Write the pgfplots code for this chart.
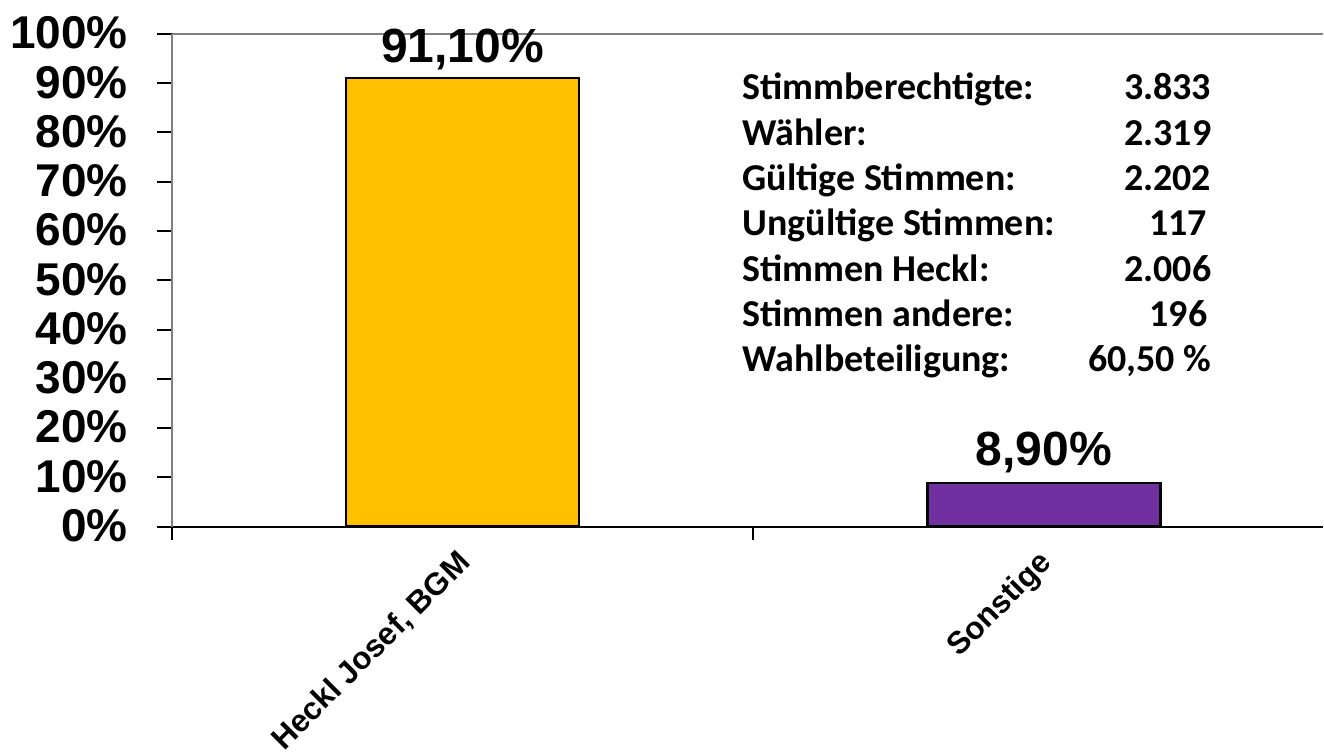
\documentclass[border=0pt]{standalone}
\usepackage{pgfplots}
\pgfplotsset{compat=1.18}
\usepackage{fontspec}
\setmainfont{Liberation Sans}
\newfontfamily\calibri{Carlito}
\definecolor{barY}{HTML}{FFC000}
\definecolor{barP}{HTML}{7030A0}
\newcommand{\row}[2]{\makebox[234.5pt][l]{#1\hfill #2}}
\begin{document}
\begin{tikzpicture}
\begin{axis}[
  at={(86pt,113pt)}, anchor=south west,
  scale only axis, width=576pt, height=246.5pt,
  xmin=-0.5, xmax=1.48, ymin=0, ymax=100,
  clip=false,
  axis x line*=bottom, axis y line*=left,
  x axis line style={black, line width=1pt},
  y axis line style={gray, line width=1pt},
  tick align=outside,
  major tick length=7.5pt,
  tick style={black, line width=1pt},
  ytick={0,10,20,30,40,50,60,70,80,90,100},
  yticklabels={0\%,10\%,20\%,30\%,40\%,50\%,60\%,70\%,80\%,90\%,100\%},
  yticklabel style={font=\bfseries\fontsize{23}{23}\selectfont, xshift=-11pt, yshift=0.5pt},
  xtick={0,1},
  xticklabels={{Heckl Josef, BGM},Sonstige},
  xtick style={draw=none},
  xticklabel style={xshift=-3.5pt, yshift=-3pt, rotate=45, anchor=north east, inner sep=0pt,
      font=\bfseries\fontsize{15.7}{15.7}\selectfont},
]
\addplot[ybar, bar shift=0pt, bar width=116.5pt, fill=barY, draw=black, line width=1.2pt,
  nodes near coords, point meta=explicit symbolic,
  every node near coord/.append style={anchor=base, yshift=7.5pt, font=\bfseries\fontsize{24}{24}\selectfont, black}]
  coordinates {(0,91.1) [91{,}10\%]};
\addplot[ybar, bar shift=0pt, bar width=116.5pt, fill=barP, draw=black, line width=1.2pt,
  nodes near coords, point meta=explicit symbolic,
  every node near coord/.append style={anchor=base, yshift=8.5pt, font=\bfseries\fontsize{24}{24}\selectfont, black}]
  coordinates {(1,8.9) [8{,}90\%]};
\draw[gray, line width=1pt] (rel axis cs:0,1) -- (rel axis cs:1,1);
\draw[black, line width=1pt] (axis cs:-0.5,0) -- ([yshift=-6.5pt]axis cs:-0.5,0);
\draw[black, line width=1pt] (axis cs:0.5,0) -- ([yshift=-6.5pt]axis cs:0.5,0);
\node[anchor=north west, inner sep=0pt, align=left, font=\calibri\bfseries\fontsize{19}{22.67}\selectfont] at (axis cs:0.481,92.1) {%
\row{Stimmberechtigte:}{3.833}\\
\row{Wähler:}{2.319}\\
\row{Gültige Stimmen:}{2.202}\\
\row{Ungültige Stimmen:}{117\hspace{2pt}}\\
\row{Stimmen Heckl:}{2.006}\\
\row{Stimmen andere:}{196\hspace{2pt}}\\
\row{Wahlbeteiligung:}{60,50 \%}};
\end{axis}
\path[use as bounding box] (0,0) rectangle (662pt,376.5pt);
\end{tikzpicture}
\end{document}
